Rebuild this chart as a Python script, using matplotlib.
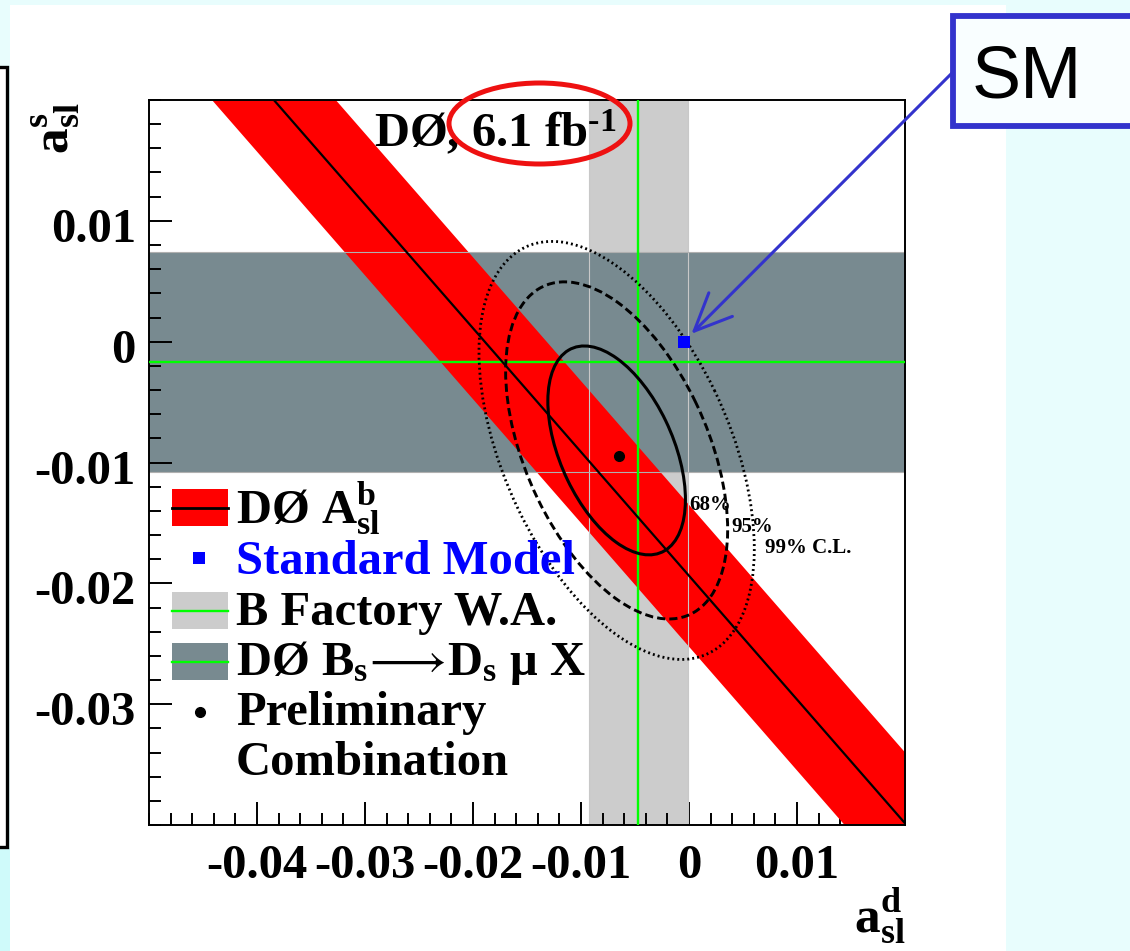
"""DØ dimuon charge asymmetry: a_sl^s versus a_sl^d with the SM callout."""

import numpy as np
import matplotlib.pyplot as plt
from matplotlib.patches import Rectangle, Ellipse
from matplotlib.lines import Line2D
from matplotlib.ticker import MultipleLocator
from matplotlib.transforms import ScaledTranslation

# DØ inclusive asymmetry, A = beta_d * a_d + beta_s * a_s
asl_b = -0.00957
asl_b_err = 0.0029
beta_d = 0.506
beta_s = 0.494

# B factory world average of a_sl^d
bfac_ad = -0.0047
bfac_err = 0.0046

# DØ Bs -> Ds mu X measurement of a_sl^s
dzero_as = -0.0017
dzero_err = 0.0091

# standard model point
sm_ad = -0.0005
sm_as = 0.0

# preliminary combination and its contours
comb_ad = -0.0065
comb_as = -0.0095
contour_center = (-0.0067, -0.0090)
contour_sigma = (0.0042, 0.0057)
contour_rho = -0.47
cl_levels = [2.30, 5.99, 9.21]
cl_labels = ['68%', '95%', '99% C.L.']

x_range = (-0.05, 0.02)
y_range = (-0.04, 0.02)
x_ticks = [-0.04, -0.03, -0.02, -0.01, 0.0, 0.01]
x_tick_labels = ['-0.04', '-0.03', '-0.02', '-0.01', '0', '0.01']
y_ticks = [0.01, 0.0, -0.01, -0.02, -0.03]
y_tick_labels = ['0.01', '0', '-0.01', '-0.02', '-0.03']

legend_labels = ['DØ $A^{b}_{sl}$', 'Standard Model', 'B Factory W.A.',
                 'DØ B$_{s}\\!\\longrightarrow\\!$D$_{s}$ μ X',
                 'Preliminary', 'Combination']

W, H = 1130, 951
SERIF = ['Liberation Serif', 'DejaVu Serif']

plt.rcParams['mathtext.fontset'] = 'custom'
plt.rcParams['mathtext.rm'] = 'Liberation Serif:bold'
plt.rcParams['mathtext.bf'] = 'Liberation Serif:bold'
plt.rcParams['mathtext.it'] = 'Liberation Serif:bold'
plt.rcParams['mathtext.default'] = 'rm'
plt.rcParams['mathtext.fallback'] = 'stix'


def fig_xy(px, py):
    """Image pixel (top-left origin) to figure fraction."""
    return px / W, 1 - py / H


def ax_xy(px, py):
    """Image pixel to axes fraction."""
    return (px - 149) / 756, (825 - py) / 725


def contour_ellipse(level, **kw):
    sx, sy = contour_sigma
    cov = np.array([[sx * sx, contour_rho * sx * sy],
                    [contour_rho * sx * sy, sy * sy]])
    vals, vecs = np.linalg.eigh(cov)
    angle = np.degrees(np.arctan2(vecs[1, 1], vecs[0, 1]))
    return Ellipse(contour_center, 2 * np.sqrt(level * vals[1]),
                   2 * np.sqrt(level * vals[0]), angle=angle,
                   fill=False, **kw)


fig = plt.figure(figsize=(11.3, 9.51), dpi=100, facecolor='#e8fdfd')

# slide background pieces
fig.patches.append(Rectangle(fig_xy(10, 951), 996 / W, 946 / H,
                             transform=fig.transFigure, fc='white',
                             ec='none', zorder=-2))
fig.patches.append(Rectangle(fig_xy(0, 951), 10 / W, 103 / H,
                             transform=fig.transFigure, fc='#cffafa',
                             ec='none', zorder=-2))
fig.patches.append(Rectangle(fig_xy(-20, 847), 26.7 / W, 780.5 / H,
                             transform=fig.transFigure, fc='white',
                             ec='black', lw=2.4, zorder=-1))

ax = fig.add_axes([149 / W, 1 - 825 / H, 756 / W, 725 / H])
ax.set_xlim(*x_range)
ax.set_ylim(*y_range)

ax.axvspan(bfac_ad - bfac_err, bfac_ad + bfac_err, color='#cccccc',
           lw=0, zorder=1)
ax.axhspan(dzero_as - dzero_err, dzero_as + dzero_err, color='#788a90',
           lw=0, zorder=1.1)

ad = np.array(x_range)
band_mid = (asl_b - beta_d * ad) / beta_s
band_half = asl_b_err / beta_s
ax.fill_between(ad, band_mid - band_half, band_mid + band_half,
                color='#ff0000', lw=0, zorder=2)

for edge in (bfac_ad - bfac_err, bfac_ad + bfac_err):
    ax.axvline(edge, color='#c8c8c8', lw=0.8, zorder=2.5)
for edge in (dzero_as - dzero_err, dzero_as + dzero_err):
    ax.axhline(edge, color='#b0b0b0', lw=0.8, zorder=2.5)

ax.axvline(bfac_ad, color='#00ff00', lw=1.7, zorder=3)
ax.axhline(dzero_as, color='#00ff00', lw=1.7, zorder=3)
ax.plot(ad, band_mid, color='black', lw=1.6, zorder=3.5)

styles = [dict(lw=2.2, ls='-'),
          dict(lw=2.1, ls=(0, (2.8, 1.4))),
          dict(lw=2.0, ls=(0, (0.7, 1.1)))]
for level, st in zip(cl_levels, styles):
    ax.add_patch(contour_ellipse(level, ec='black', zorder=4, **st))

ax.plot(comb_ad, comb_as, 'o', color='black', ms=7, zorder=5)
ax.plot(sm_ad, sm_as, 's', color='#0000ff', ms=8.5, mew=0, zorder=5)

cl_pos = [(689, 510), (731, 532), (765, 553)]
for label, pos in zip(cl_labels, cl_pos):
    ax.text(*ax_xy(*pos), label, transform=ax.transAxes, ha='left',
            va='baseline', fontsize=15, fontweight='bold', family=SERIF,
            zorder=6)

ax.text(*ax_xy(374, 147), 'DØ, 6.1 fb$^{\\text{-}1}$', transform=ax.transAxes,
        ha='left', va='baseline', fontsize=35, fontweight='bold',
        family=SERIF, zorder=6)

# legend drawn by hand, ROOT style
sw_x, sw_w, sw_h = 172, 56, 37
for top, face, line in [(489, '#ff0000', 'black'),
                        (592, '#cccccc', '#00ff00'),
                        (643, '#788a90', '#00ff00')]:
    ax.add_patch(Rectangle(ax_xy(sw_x, top + sw_h), sw_w / 756, sw_h / 725,
                           transform=ax.transAxes, fc=face, ec='none',
                           clip_on=False, zorder=6))
    x0, yc = ax_xy(sw_x, top + sw_h / 2)
    x1, _ = ax_xy(sw_x + sw_w, 0)
    ax.add_line(Line2D([x0, x1], [yc, yc], transform=ax.transAxes,
                       color=line, lw=1.7 if line != 'black' else 2.0,
                       clip_on=False, zorder=6.5))
ax.plot(*ax_xy(199, 558), 's', color='#0000ff', ms=8.5, mew=0,
        transform=ax.transAxes, clip_on=False, zorder=6)
ax.plot(*ax_xy(200, 712), 'o', color='black', ms=7,
        transform=ax.transAxes, clip_on=False, zorder=6)

baselines = [525, 574, 625, 675, 725, 775]
for label, base in zip(legend_labels, baselines):
    ax.text(*ax_xy(236, base), label, transform=ax.transAxes, ha='left',
            va='baseline', fontsize=35, fontweight='bold', family=SERIF,
            color='#0000ff' if label == 'Standard Model' else 'black',
            zorder=7)

# axes styling
for sp in ax.spines.values():
    sp.set_linewidth(1.4)
ax.set_xticks(x_ticks, x_tick_labels)
ax.set_yticks(y_ticks, y_tick_labels)
ax.xaxis.set_minor_locator(MultipleLocator(0.002))
ax.yaxis.set_minor_locator(MultipleLocator(0.002))
ax.tick_params(which='both', direction='in', top=False, right=False,
               width=1.4)
ax.tick_params(which='major', length=16.5)
ax.tick_params(which='minor', length=8.6)
ax.tick_params(axis='x', which='major', pad=14)
ax.tick_params(axis='y', which='major', pad=9.5)
for lab in ax.get_xticklabels() + ax.get_yticklabels():
    lab.set_fontsize(35)
    lab.set_fontweight('bold')
    lab.set_family(SERIF)
shift = ScaledTranslation(0, -4 / 100, fig.dpi_scale_trans)
for lab in ax.get_yticklabels():
    lab.set_transform(lab.get_transform() + shift)

ax.set_xlabel('$a^{d}_{sl}$', fontsize=37, loc='right', va='center')
ax.xaxis.set_label_coords(1.0, -0.125)
ax.set_ylabel('$a^{s}_{sl}$', fontsize=37, loc='top', va='center')
ax.yaxis.set_label_coords(-0.123, 0.997)

# slide annotations
fig.patches.append(Ellipse(fig_xy(539.5, 123.5), 181 / W, 81 / H,
                           transform=fig.transFigure, fill=False,
                           ec='#ee1111', lw=3.6, zorder=5))
fig.patches.append(Rectangle(fig_xy(953, 126), 200 / W, 110 / H,
                             transform=fig.transFigure, fc='#f9feff',
                             ec='#3333cc', lw=4.2, zorder=5))
fig.text(*fig_xy(972, 98), 'SM', ha='left', va='baseline', fontsize=53,
         family=['Liberation Sans', 'DejaVu Sans'], zorder=6)
ax.annotate('', xy=(sm_ad, sm_as), xycoords='data',
            xytext=fig_xy(953, 72), textcoords='figure fraction',
            arrowprops=dict(arrowstyle='->,head_length=0.9,head_width=0.4',
                            color='#3333cc', lw=2.2, shrinkA=0, shrinkB=8,
                            mutation_scale=30),
            zorder=8)

fig.savefig('out.png', dpi=100, facecolor=fig.get_facecolor())
